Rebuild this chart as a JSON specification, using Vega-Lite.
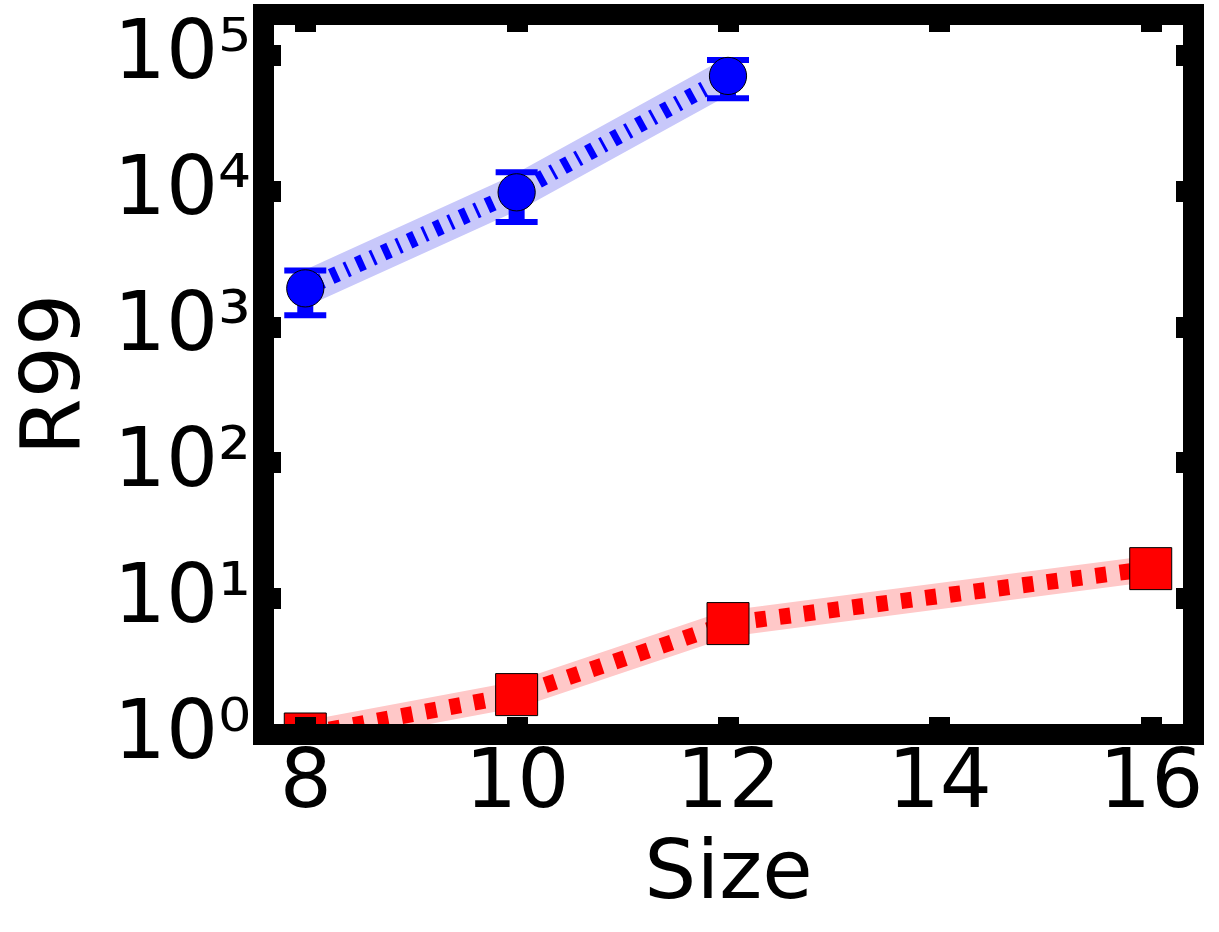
{
  "$schema": "https://vega.github.io/schema/vega-lite/v6.json",
  "width": 930,
  "height": 720,
  "autosize": {"type": "none"},
  "padding": {"left": 263, "top": 14, "right": 26, "bottom": 198},
  "background": "white",
  "config": {"view": {"stroke": null}, "font": "DejaVu Sans"},
  "datasets": {
    "blue": [
      {"size": 8, "r99": 1910, "lo": 1210, "hi": 2590},
      {"size": 10, "r99": 9730, "lo": 5890, "hi": 13700},
      {"size": 12, "r99": 70000, "lo": 48000, "hi": 91800}
    ],
    "red": [
      {"size": 8, "r99": 1.0},
      {"size": 10, "r99": 1.95},
      {"size": 12, "r99": 6.5},
      {"size": 16, "r99": 16.5}
    ]
  },
  "layer": [
    {
      "data": {"name": "blue"},
      "mark": {"type": "line", "color": "#c8c8fa", "strokeWidth": 34, "clip": true},
      "encoding": {
        "x": {"field": "size", "type": "quantitative",
          "scale": {"domain": [7.6, 16.4], "nice": false, "zero": false},
          "axis": {"orient": "bottom", "values": [8, 10, 12, 14, 16], "format": "d",
            "labelFontSize": 82, "labelFont": "DejaVu Sans", "labelColor": "black", "labelPadding": 25,
            "labelFlush": false, "labelOverlap": false,
            "tickSize": -17.5, "tickWidth": 21, "tickColor": "black",
            "domain": true, "domainWidth": 21, "domainColor": "black", "domainCap": "square",
            "grid": false, "title": "Size", "titleFontSize": 82, "titleFont": "DejaVu Sans",
            "titleFontWeight": "normal", "titleColor": "black", "titlePadding": 10, "zindex": 1}},
        "y": {"field": "r99", "type": "quantitative",
          "scale": {"type": "log", "domain": [1, 200000], "nice": false},
          "axis": {"orient": "left", "values": [1, 10, 100, 1000, 10000, 100000],
            "labelExpr": "'10' + ['⁰','¹','²','³','⁴','⁵'][round(log(datum.value)/LN10)]",
            "labelFontSize": 82, "labelFont": "DejaVu Sans", "labelColor": "black", "labelPadding": 30,
            "labelFlush": false, "labelOverlap": false, "labelOffset": -2,
            "tickSize": -17.5, "tickWidth": 21, "tickColor": "black",
            "domain": true, "domainWidth": 21, "domainColor": "black", "domainCap": "square",
            "grid": false, "title": "R99", "titleFontSize": 82, "titleFont": "DejaVu Sans",
            "titleFontWeight": "normal", "titleColor": "black", "titlePadding": 18, "zindex": 1}}
      }
    },
    {
      "data": {"name": "red"},
      "mark": {"type": "line", "color": "#ffc8c8", "strokeWidth": 26, "clip": true},
      "encoding": {
        "x": {"field": "size", "type": "quantitative",
          "axis": {"orient": "top", "values": [8, 10, 12, 14, 16], "labels": false, "title": null,
            "tickSize": -17.5, "tickWidth": 21, "tickColor": "black",
            "domain": true, "domainWidth": 21, "domainColor": "black", "domainCap": "square",
            "grid": false, "zindex": 1}},
        "y": {"field": "r99", "type": "quantitative",
          "axis": {"orient": "right", "values": [1, 10, 100, 1000, 10000, 100000], "labels": false, "title": null,
            "tickSize": -17.5, "tickWidth": 21, "tickColor": "black",
            "domain": true, "domainWidth": 21, "domainColor": "black", "domainCap": "square",
            "grid": false, "zindex": 1}}
      }
    },
    {
      "data": {"name": "blue"},
      "mark": {"type": "line", "color": "#0000ff", "strokeWidth": 16, "strokeDash": [7, 9, 3, 9.5], "strokeCap": "butt", "clip": true},
      "encoding": {
        "x": {"field": "size", "type": "quantitative", "axis": null},
        "y": {"field": "r99", "type": "quantitative", "axis": null}
      }
    },
    {
      "data": {"name": "red"},
      "mark": {"type": "line", "color": "#ff0000", "strokeWidth": 16, "strokeDash": [11, 13.5], "strokeCap": "butt", "clip": true},
      "encoding": {
        "x": {"field": "size", "type": "quantitative", "axis": null},
        "y": {"field": "r99", "type": "quantitative", "axis": null}
      }
    },
    {
      "data": {"name": "blue"},
      "mark": {"type": "rule", "color": "#0000ff", "strokeWidth": 16, "clip": true},
      "encoding": {
        "x": {"field": "size", "type": "quantitative", "axis": null},
        "y": {"field": "lo", "type": "quantitative", "axis": null},
        "y2": {"field": "hi"}
      }
    },
    {
      "data": {"name": "blue"},
      "mark": {"type": "tick", "orient": "horizontal", "color": "#0000ff", "size": 42, "thickness": 6, "opacity": 1, "clip": true},
      "encoding": {
        "x": {"field": "size", "type": "quantitative", "axis": null},
        "y": {"field": "lo", "type": "quantitative", "axis": null}
      }
    },
    {
      "data": {"name": "blue"},
      "mark": {"type": "tick", "orient": "horizontal", "color": "#0000ff", "size": 42, "thickness": 6, "opacity": 1, "clip": true},
      "encoding": {
        "x": {"field": "size", "type": "quantitative", "axis": null},
        "y": {"field": "hi", "type": "quantitative", "axis": null}
      }
    },
    {
      "data": {"name": "blue"},
      "mark": {"type": "point", "shape": "circle", "size": 1385, "filled": true, "fill": "#0000ff", "stroke": "black", "strokeWidth": 1, "opacity": 1, "clip": true},
      "encoding": {
        "x": {"field": "size", "type": "quantitative", "axis": null},
        "y": {"field": "r99", "type": "quantitative", "axis": null}
      }
    },
    {
      "data": {"name": "red"},
      "mark": {"type": "point", "shape": "square", "size": 1764, "filled": true, "fill": "#ff0000", "stroke": "black", "strokeWidth": 1, "opacity": 1, "clip": true},
      "encoding": {
        "x": {"field": "size", "type": "quantitative", "axis": null},
        "y": {"field": "r99", "type": "quantitative", "axis": null}
      }
    }
  ],
  "resolve": {"axis": {"x": "independent", "y": "independent"}}
}
